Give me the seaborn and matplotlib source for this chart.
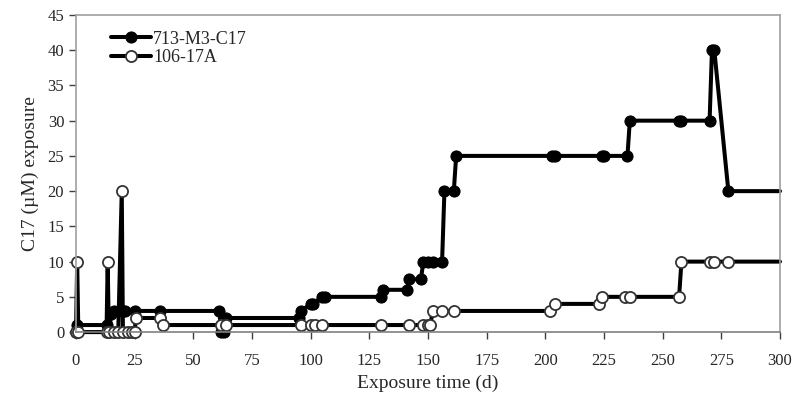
import matplotlib
matplotlib.use("Agg")
import matplotlib.pyplot as plt
import seaborn as sns
import pandas as pd

# 713-M3-C17 (filled markers)
s1_days = [0, 0.5, 13, 13.5, 14, 15, 16, 20, 21, 25, 36, 61, 62, 63, 64, 95, 96, 100, 101, 105, 106,
           130, 131, 141, 142, 147, 148, 150, 152, 156, 157, 161, 162, 203, 204, 224, 225, 235, 236,
           257, 258, 270, 271, 272, 278, 300]
s1_vals = [0, 1, 1, 0, 0, 2.5, 3, 3, 3, 3, 3, 3, 0, 0, 2, 2, 3, 4, 4, 5, 5,
           5, 6, 6, 7.5, 7.5, 10, 10, 10, 10, 20, 20, 25, 25, 25, 25, 25, 25, 30,
           30, 30, 30, 40, 40, 20, 20]

# 106-17A (open markers)
s2_days = [0, 0.5, 1, 13, 13.5, 14, 16, 18, 19.5, 20, 22, 24, 25, 25.5, 36, 37, 62, 64, 96, 100,
           102, 105, 130, 142, 148, 150, 151, 152, 156, 161, 202, 204, 223, 224, 234, 236, 257, 258,
           270, 272, 278, 300]
s2_vals = [0, 10, 0, 0, 10, 0, 0, 0, 20, 0, 0, 0, 0, 2, 2, 1, 1, 1, 1, 1,
           1, 1, 1, 1, 1, 1, 1, 3, 3, 3, 3, 4, 4, 5, 5, 5, 5, 10,
           10, 10, 10, 10]

x_ticks = list(range(0, 301, 25))
y_ticks = list(range(0, 46, 5))

sns.set_style("white")
plt.rcParams['font.family'] = ['Liberation Serif', 'DejaVu Serif']

fig = plt.figure(figsize=(8, 4.04), dpi=100)
ax = fig.add_axes([0.095, 0.178, 0.88, 0.785])

df1 = pd.DataFrame({"day": s1_days, "val": s1_vals})
df2 = pd.DataFrame({"day": s2_days, "val": s2_vals})

sns.lineplot(data=df1, x="day", y="val", ax=ax, estimator=None, sort=False,
             color="black", linewidth=2.9, marker="o", markersize=8,
             markerfacecolor="black", markeredgecolor="black", clip_on=False,
             markevery=list(range(len(s1_days) - 1)), label="713-M3-C17")
sns.lineplot(data=df2, x="day", y="val", ax=ax, estimator=None, sort=False,
             color="black", linewidth=2.9, marker="o", markersize=8,
             markerfacecolor="white", markeredgecolor="#333333", markeredgewidth=1.3,
             clip_on=False,
             markevery=list(range(len(s2_days) - 1)), label="106-17A")

ax.set_xlim(0, 300)
ax.set_ylim(0, 45)
ax.set_xticks(x_ticks)
ax.set_yticks(y_ticks)
ax.set_xlabel("Exposure time (d)", fontsize=14, labelpad=4)
ax.set_ylabel("C17 (\u00b5M) exposure", fontsize=14, labelpad=6)
ax.tick_params(axis="both", which="both", direction="out", length=5, width=1,
               color="#404040", labelsize=12, bottom=True, left=True)
ax.tick_params(axis="x", pad=10)
for sp in ax.spines.values():
    sp.set_color("#a0a0a0")
    sp.set_linewidth(1.2)
ax.spines["bottom"].set_color("#808080")

leg = ax.legend(loc="upper left", bbox_to_anchor=(0.035, 0.985), frameon=False,
                fontsize=13, handlelength=2.2, handletextpad=0.1, labelspacing=0.1,
                borderaxespad=0.2)

fig.savefig("out.png", dpi=100)
